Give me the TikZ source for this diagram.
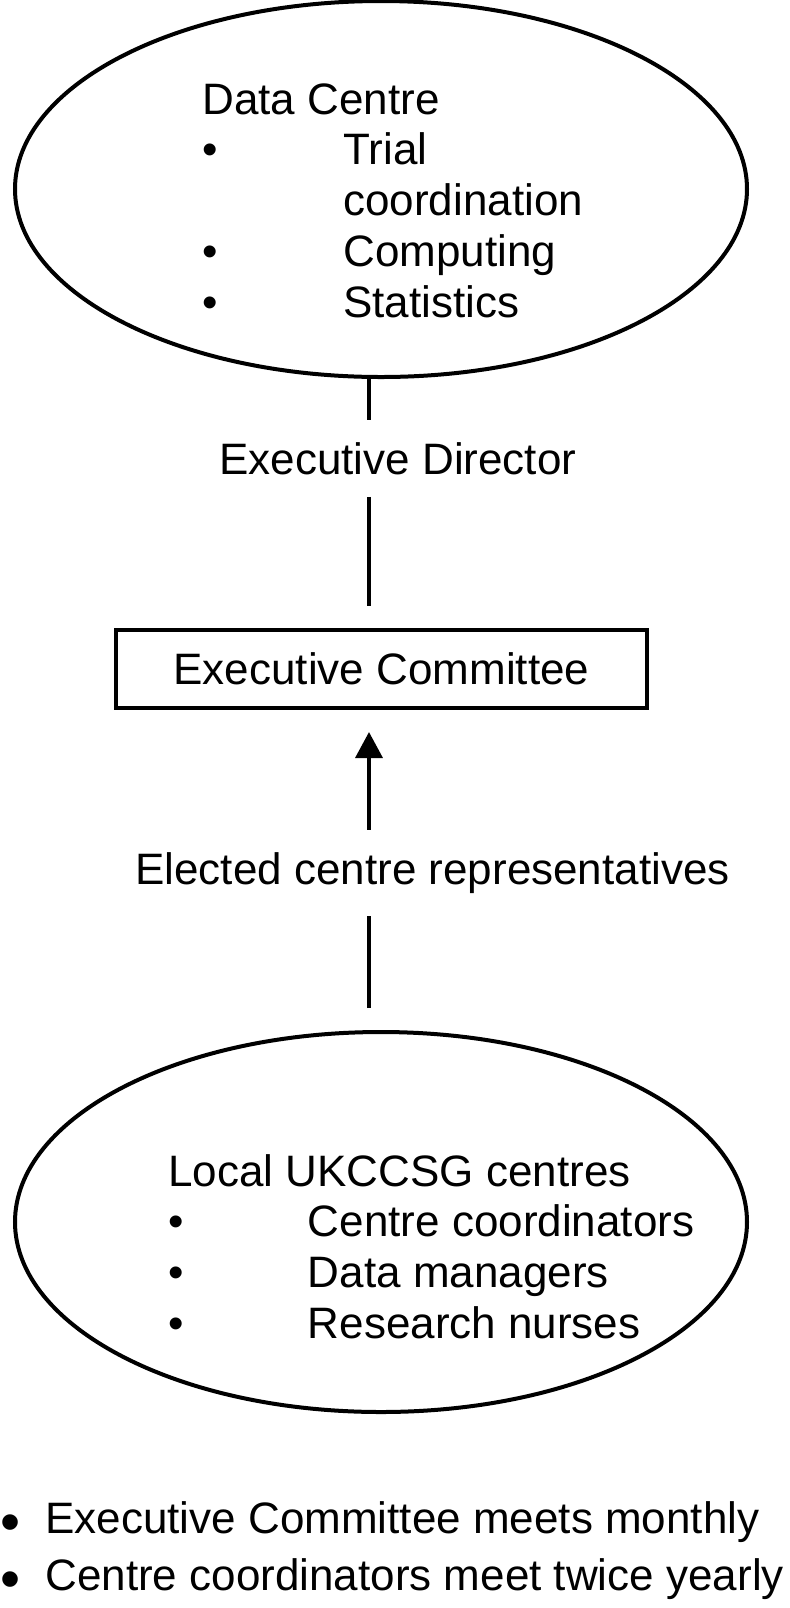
\documentclass[tikz,border=0pt]{standalone}
\usepackage{fontspec}
\setmainfont{Liberation Sans}
\usetikzlibrary{shapes.geometric,arrows.meta,positioning}

\begin{document}
\begin{tikzpicture}[
    x=0.5pt, y=-0.5pt,
    every node/.style={font=\fontsize{22pt}{25pt}\selectfont},
    unit/.style={ellipse, draw, line width=2pt, minimum width=366pt, minimum height=188pt, inner sep=0pt},
    board/.style={rectangle, draw, line width=2pt, minimum width=265.5pt, minimum height=39pt, outer sep=12pt},
    tag/.style={inner xsep=0pt, inner ysep=11pt, anchor=base west},
    list/.style={inner sep=0pt, anchor=base west},
    link/.style={line width=1.8pt},
    uplink/.style={line width=1.8pt, -{Triangle[length=13pt, width=13.5pt]}}
]
    \useasboundingbox (0,0) rectangle (789,1608);
    \coordinate (spine) at (369,0);

    % data centre at the top
    \node[unit] (datacentre) at (381,189) {};
    \node[list, font=\fontsize{22pt}{25.4pt}\selectfont] (dclist) at (202,114) {%
        \begin{tabular}[t]{@{}p{70.5pt}@{}l@{}}
            \multicolumn{2}{@{}l@{}}{Data Centre}\\
            • & Trial\\
              & coordination\\
            • & Computing\\
            • & Statistics
        \end{tabular}};

    \node[tag] (director) at (219,474) {Executive Director};
    \node[board] (committee) at (381.5,669) {Executive Committee};
    \node[tag] (reps) at (135,884) {Elected centre representatives};

    % local centres
    \node[unit, minimum height=190pt, outer sep=12pt] (centres) at (381,1222) {};
    \node[list, font=\fontsize{22pt}{25.35pt}\selectfont] (lclist) at (168,1186) {%
        \begin{tabular}[t]{@{}p{69.75pt}@{}l@{}}
            \multicolumn{2}{@{}l@{}}{Local UKCCSG centres}\\
            • & Centre coordinators\\
            • & Data managers\\
            • & Research nurses
        \end{tabular}};

    \node[list, font=\fontsize{22pt}{28.5pt}\selectfont] (notes) at (0,1533) {%
        \begin{tabular}[t]{@{}p{22.5pt}@{}l@{}}
            \raisebox{-4pt}{\scalebox{1.3}{•}} & Executive Committee meets monthly\\
            \raisebox{-4pt}{\scalebox{1.3}{•}} & Centre coordinators meet twice yearly
        \end{tabular}};

    \draw[link] (datacentre.south -| spine) -- (director.north -| spine);
    \draw[link] (director.south -| spine) -- (committee.north -| spine);
    \draw[uplink] (reps.north -| spine) -- (committee.south -| spine);
    \draw[link] (centres.north -| spine) -- (reps.south -| spine);
\end{tikzpicture}
\end{document}
